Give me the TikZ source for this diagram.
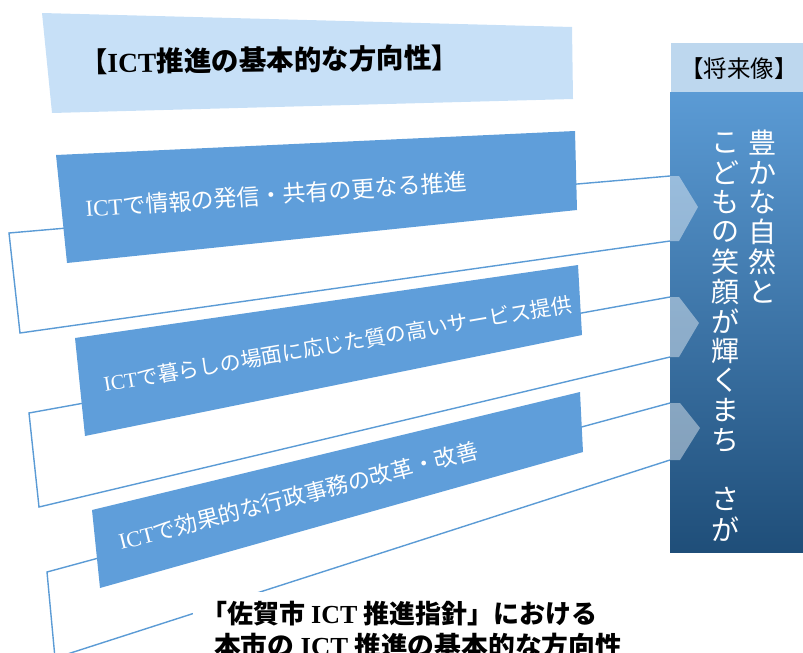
\documentclass[tikz,border=0pt]{standalone}
\usepackage{fontspec}
\setmainfont{Liberation Serif}
\newfontfamily\cjk{Noto Sans CJK JP}
\newcommand\lat[1]{{\rmfamily #1}}
\definecolor{barblue}{RGB}{95,158,218}
\definecolor{hdrblue}{RGB}{199,224,247}
\definecolor{linblue}{RGB}{91,155,213}
\definecolor{panlight}{RGB}{91,155,213}
\definecolor{pandark}{RGB}{31,78,121}
\definecolor{panhead}{RGB}{189,215,238}
\tikzset{
  barshape/.style={fill=barblue},
  hdrshape/.style={fill=hdrblue},
  bracket/.style={draw=linblue, line width=1.4pt, line join=miter},
  chev/.style={fill=white, fill opacity=0.42},
  bartext/.style={text=white, anchor=base west, inner sep=0pt},
  vtext/.style={text=white, inner sep=0pt, font=\cjk\fontsize{28}{28}\selectfont},
  blacktext/.style={text=black, inner sep=0pt}
}
\begin{document}
\begin{tikzpicture}[x=1pt,y=-1pt]
\useasboundingbox (0,0) rectangle (803,653);
\clip (0,0) rectangle (803,653);

% bracket corner coordinates
\coordinate (c1t) at (670,176); \coordinate (c1l) at (9,233);  \coordinate (c1d) at (20,333); \coordinate (c1b) at (670,241);
\coordinate (c2t) at (670,297); \coordinate (c2l) at (29,413); \coordinate (c2d) at (39,507); \coordinate (c2b) at (670,357);
\coordinate (c3t) at (670,403); \coordinate (c3l) at (47,572); \coordinate (c3d) at (55,658); \coordinate (c3b) at (670,460);
\draw[bracket] (c1t) -- (c1l) -- (c1d) -- (c1b);
\draw[bracket] (c2t) -- (c2l) -- (c2d) -- (c2b);
\draw[bracket] (c3t) -- (c3l) -- (c3d) -- (c3b);

% header and bars
\fill[hdrshape] (42,13) -- (572,27) -- (573,99) -- (52,113) -- cycle;
\fill[barshape] (56,155) -- (575,131) -- (577,210) -- (67,263) -- cycle;
\fill[barshape] (75,338) -- (578,265) -- (582,335) -- (85,436) -- cycle;
\fill[barshape] (92,510) -- (580,392) -- (583,452) -- (100,588) -- cycle;

\node[blacktext, anchor=base west, rotate=0.8, font=\cjk\bfseries\fontsize{27.5}{27.5}\selectfont] (hdr) at (80,73) {【\lat{ICT}推進の基本的な方向性】};
\node[bartext, rotate=4.06, font=\cjk\fontsize{23}{23}\selectfont] (t1) at (86,217) {\lat{ICT}で情報の発信・共有の更なる推進};
\node[bartext, rotate=9.74, font=\cjk\fontsize{21}{21}\selectfont] (t2) at (105,392) {\lat{ICT}で暮らしの場面に応じた質の高いサービス提供};
\node[bartext, rotate=14.4, font=\cjk\fontsize{22.3}{22.3}\selectfont] (t3) at (121,550) {\lat{ICT}で効果的な行政事務の改革・改善};

% right panel
\fill[panhead, draw=white, line width=1pt] (670,42) rectangle (803,92);
\shade[shading angle=45, top color=panlight, bottom color=pandark] (670,92) rectangle (803,552);
\node[blacktext, font=\cjk\fontsize{23.5}{23.5}\selectfont] (fut) at (739,69) {【将来像】};

\fill[chev] (c1t) -- (679,176) -- (698,207) -- (679,241) -- (c1b) -- cycle;
\fill[chev] (c2t) -- (679,297) -- (699,323) -- (679,357) -- (c2b) -- cycle;
\fill[chev] (c3t) -- (680,403) -- (700,428) -- (680,460) -- (c3b) -- cycle;

\foreach \ch [count=\i] in {豊,か,な,自,然,と}
  \node[vtext] (vr\i) at (762,{143+29.7*(\i-1)}) {\ch};
\foreach \ch/\k in {こ/1,ど/2,も/3,の/4,笑/5,顔/6,が/7,輝/8,く/9,ま/10,ち/11,さ/13,が/14}
  \node[vtext] (vl\k) at (725,{143+29.7*(\k-1)}) {\ch};

% caption
\node[fill=white, inner sep=0pt, minimum width=460pt, minimum height=70pt, anchor=north west] (capbox) at (193,592) {};
\node[blacktext, anchor=base west, font=\cjk\bfseries\fontsize{26}{26}\selectfont] (cap1) at (201,623) {「佐賀市 \lat{ICT} 推進指針」における};
\node[blacktext, anchor=base west, font=\cjk\bfseries\fontsize{26}{26}\selectfont] (cap2) at (214,655) {\scalebox{1.03}[1]{本市の \lat{ICT} 推進の基本的な方向性}};
\end{tikzpicture}
\end{document}
